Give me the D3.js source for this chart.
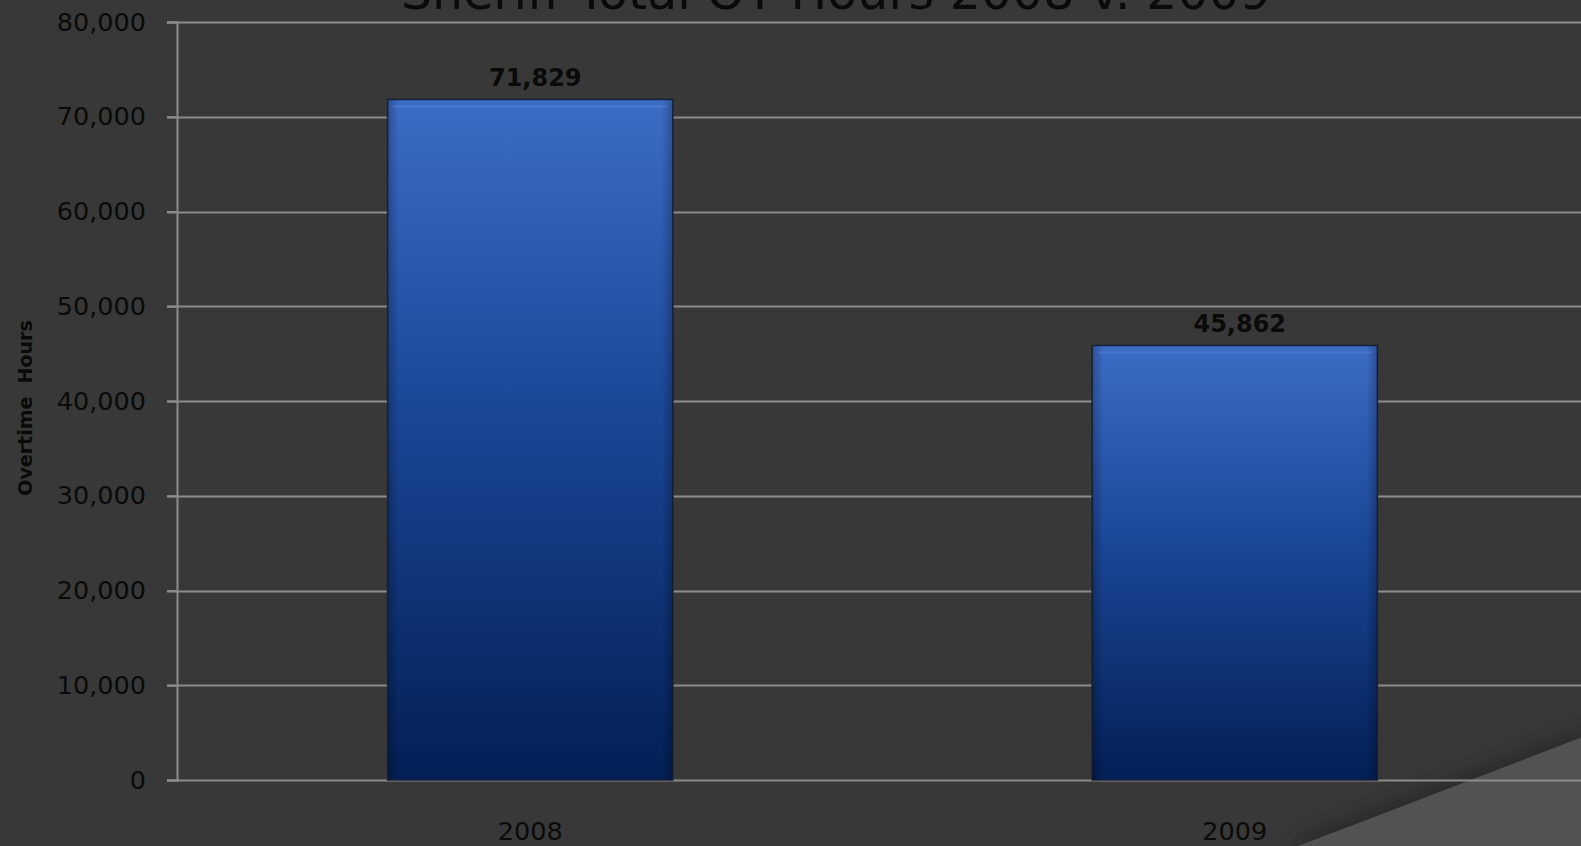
<!DOCTYPE html>
<html>
<head>
<meta charset="utf-8">
<script src="https://cdn.jsdelivr.net/npm/d3@7"></script>
<style>
  html, body { margin: 0; padding: 0; background: #383838; overflow: hidden; }
  svg { display: block; }
</style>
</head>
<body>
<svg id="chart" width="1581" height="846"></svg>
<script>
// Overtime hours by year
const categories = ["2008", "2009"];
const overtimeHours = [71829, 45862];
const yTicks = [0, 10000, 20000, 30000, 40000, 50000, 60000, 70000, 80000];
const chartTitle = "Sheriff Total OT Hours 2008 v. 2009";
const yAxisTitle = "Overtime  Hours";

const W = 1581, H = 846;
const margin = { top: 22, right: 0, bottom: 66, left: 177 };
const font = "'DejaVu Sans', Verdana, sans-serif";

const svg = d3.select("#chart");
const defs = svg.append("defs");

// bar fill: light blue at top fading to dark navy
const grad = defs.append("linearGradient")
  .attr("id", "barGrad").attr("x1", 0).attr("y1", 0).attr("x2", 0).attr("y2", 1);
grad.append("stop").attr("offset", "0%").attr("stop-color", "#3d6cc6");
grad.append("stop").attr("offset", "45%").attr("stop-color", "#1b4797");
grad.append("stop").attr("offset", "100%").attr("stop-color", "#031f56");

// side shading on bars
const sideGrad = defs.append("linearGradient")
  .attr("id", "sideGrad").attr("x1", 0).attr("y1", 0).attr("x2", 1).attr("y2", 0);
sideGrad.append("stop").attr("offset", "0%").attr("stop-color", "#000").attr("stop-opacity", 0.25);
sideGrad.append("stop").attr("offset", "4%").attr("stop-color", "#000").attr("stop-opacity", 0);
sideGrad.append("stop").attr("offset", "96%").attr("stop-color", "#000").attr("stop-opacity", 0);
sideGrad.append("stop").attr("offset", "100%").attr("stop-color", "#000").attr("stop-opacity", 0.25);

// soft shadow for the corner swoosh
const blur = defs.append("filter").attr("id", "swooshShadow")
  .attr("x", "-20%").attr("y", "-20%").attr("width", "140%").attr("height", "140%");
blur.append("feGaussianBlur").attr("stdDeviation", 9);

// background
svg.append("rect").attr("width", W).attr("height", H).attr("fill", "#383838");

// decorative swoosh in the lower-right corner
const swoosh = d3.path();
swoosh.moveTo(1298, 846);
swoosh.quadraticCurveTo(1440, 792, 1590, 734);
swoosh.lineTo(1590, 860);
swoosh.lineTo(1298, 860);
swoosh.closePath();
svg.append("path").attr("d", swoosh.toString())
  .attr("fill", "#202020").attr("opacity", 0.6)
  .attr("transform", "translate(-3,-8)")
  .attr("filter", "url(#swooshShadow)");
svg.append("path").attr("d", swoosh.toString()).attr("fill", "#525252");

const x = d3.scaleBand()
  .domain(categories)
  .range([margin.left + 1, W + 6])
  .paddingInner(0.595)
  .paddingOuter(0.2975);

const y = d3.scaleLinear()
  .domain([0, 80000])
  .range([H - margin.bottom, margin.top]);

// horizontal gridlines
svg.append("g")
  .selectAll("line")
  .data(yTicks)
  .join("line")
  .attr("x1", margin.left - 10)
  .attr("x2", W)
  .attr("y1", d => Math.round(y(d)) + 0.5)
  .attr("y2", d => Math.round(y(d)) + 0.5)
  .attr("stroke", "#8c8c8c")
  .attr("stroke-width", 2);

// y axis
const yAxis = svg.append("g")
  .attr("transform", `translate(${margin.left},0)`)
  .call(d3.axisLeft(y).tickValues(yTicks).tickFormat(d3.format(",")).tickSize(10).tickPadding(21));
yAxis.select(".domain").attr("stroke", "#8c8c8c").attr("stroke-width", 2);
yAxis.selectAll(".tick line").attr("stroke", "#8c8c8c").attr("stroke-width", 2);
yAxis.selectAll(".tick text")
  .attr("fill", "#0a0a0a")
  .style("font-family", font)
  .style("font-size", "25.5px");

// bars
const bars = svg.append("g").selectAll("g")
  .data(categories.map((c, i) => ({ c, v: overtimeHours[i] })))
  .join("g");

bars.append("rect")
  .attr("x", d => x(d.c))
  .attr("y", d => y(d.v))
  .attr("width", x.bandwidth())
  .attr("height", d => y(0) - y(d.v))
  .attr("fill", "url(#barGrad)")
  .attr("stroke", "#17233e")
  .attr("stroke-width", 1.5);

bars.append("rect")
  .attr("x", d => x(d.c))
  .attr("y", d => y(d.v))
  .attr("width", x.bandwidth())
  .attr("height", d => y(0) - y(d.v))
  .attr("fill", "url(#sideGrad)");

// light bevel near the top of each bar
bars.append("line")
  .attr("x1", d => x(d.c) + 6)
  .attr("x2", d => x(d.c) + x.bandwidth() - 6)
  .attr("y1", d => y(d.v) + 7)
  .attr("y2", d => y(d.v) + 7)
  .attr("stroke", "#5a86d8")
  .attr("stroke-opacity", 0.5)
  .attr("stroke-width", 2);

// value labels
bars.append("text")
  .attr("x", d => x(d.c) + x.bandwidth() / 2 + 5)
  .attr("y", d => y(d.v) - 13)
  .attr("text-anchor", "middle")
  .attr("fill", "#0a0a0a")
  .style("font-family", font)
  .style("font-weight", "bold")
  .style("font-size", "24px")
  .text(d => d3.format(",")(d.v));

// category labels
svg.append("g").selectAll("text")
  .data(categories)
  .join("text")
  .attr("x", d => x(d) + x.bandwidth() / 2)
  .attr("y", 840)
  .attr("text-anchor", "middle")
  .attr("fill", "#0a0a0a")
  .style("font-family", font)
  .style("font-size", "25.5px")
  .text(d => d);

// y axis title
svg.append("text")
  .attr("transform", "translate(32,408) rotate(-90)")
  .attr("text-anchor", "middle")
  .attr("fill", "#0a0a0a")
  .style("font-family", font)
  .style("font-weight", "bold")
  .style("font-size", "19px")
  .style("white-space", "pre")
  .text(yAxisTitle);

// chart title, running up against the top edge
svg.append("text")
  .attr("x", 836)
  .attr("y", 9)
  .attr("text-anchor", "middle")
  .attr("fill", "#0a0a0a")
  .style("font-family", font)
  .style("font-size", "49px")
  .text(chartTitle);
</script>
</body>
</html>
